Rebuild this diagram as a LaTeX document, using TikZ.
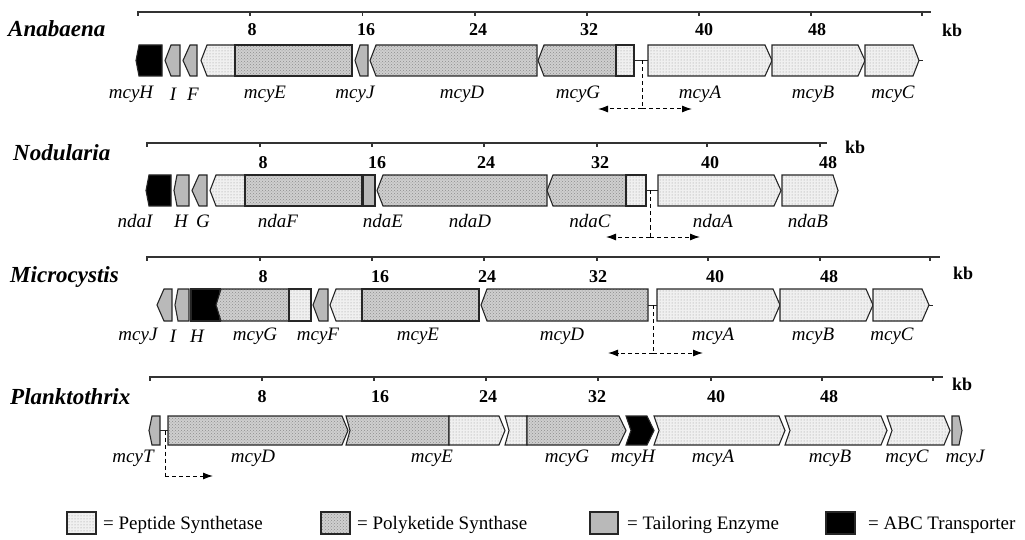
\documentclass[tikz,border=0pt]{standalone}
\usepackage{fontspec}
\setmainfont{Liberation Serif}
\usetikzlibrary{patterns,arrows.meta}
\newcommand\gene[7]{%
 \pgfmathsetmacro\gLc{#1+max(#5,0)}%
 \pgfmathsetmacro\gLm{#1+max(-(#5),0)}%
 \pgfmathsetmacro\gRc{#2-max(#6,0)}%
 \pgfmathsetmacro\gRm{#2-max(-(#6),0)}%
 \pgfmathsetmacro\gT{#3-#4}%
 \pgfmathsetmacro\gB{#3+#4}%
 \path[#7] (\gLc,\gT) -- (\gRc,\gT) -- (\gRm,#3) -- (\gRc,\gB) -- (\gLc,\gB) -- (\gLm,#3) -- cycle;}
\tikzset{
 gn/.style={draw=black!85, line width=1.1pt, line join=miter},
 pep/.style={gn, preaction={fill=gray!12}, pattern=dots, pattern color=gray!85},
 pks/.style={gn, preaction={fill=gray!38}, pattern=crosshatch dots, pattern color=gray!90},
 tail/.style={gn, fill=gray!55},
 abc/.style={gn, fill=black},
 axisline/.style={draw=black!80, line width=1.1pt},
 ttl/.style={font=\fontsize{23}{23}\selectfont\bfseries\itshape, anchor=west, inner sep=0},
 num/.style={font=\fontsize{18}{18}\selectfont\bfseries, inner sep=0},
 lab/.style={font=\fontsize{19}{19}\selectfont\itshape, inner sep=0},
 leg/.style={font=\fontsize{19}{19}\selectfont, anchor=west, inner sep=0},
 dline/.style={dash pattern=on 4pt off 3pt, line width=1pt},
 darr/.style={dline, -{Latex[length=10pt,width=7pt]}},
 link/.style={line width=1pt, draw=black!85}
}
\begin{document}
\begin{tikzpicture}[x=1pt,y=-1pt]
\useasboundingbox (0,0) rectangle (1025,540);
% ================= Row 1: Anabaena =================
\node[ttl] (t1) at (8,29) {Anabaena};
\draw[axisline] (138,12) -- (931,12);
\foreach \x in {138,250,362.5,475,587,699,811,922} \draw[axisline] (\x,11) -- (\x,16);
\node[num] (a1n8) at (252,30) {8};
\node[num] (a1n16) at (366,30) {16};
\node[num] (a1n24) at (478,30) {24};
\node[num] (a1n32) at (589,30) {32};
\node[num] (a1n40) at (704,30) {40};
\node[num] (a1n48) at (817,30) {48};
\node[num] (a1kb) at (952,30) {kb};
\gene{136}{162}{60.5}{15.5}{3}{0}{abc}
\gene{165}{180}{60.5}{15.5}{6}{0}{tail}
\gene{183}{197}{60.5}{15.5}{7}{0}{tail}
\gene{201}{235}{60.5}{15.5}{6}{0}{pep}
\gene{235}{352}{60.5}{15.5}{0}{0}{pks}
\gene{355}{368}{60.5}{15.5}{5}{0}{tail}
\gene{370}{537}{60.5}{15.5}{6}{0}{pks}
\gene{538}{616}{60.5}{15.5}{6}{0}{pks}
\gene{616}{634}{60.5}{15.5}{0}{0}{pep}
\gene{648}{772}{60.5}{15.5}{0}{7}{pep}
\gene{772}{865}{60.5}{15.5}{0}{7}{pep}
\gene{865}{919}{60.5}{15.5}{0}{6}{pep}
\coordinate (r1a) at (634,60.5); \coordinate (r1b) at (648,60.5);
\draw[link] (r1a) -- (r1b);
\coordinate (r1c) at (919,60.5); \coordinate (r1d) at (923,60.5);
\draw[link] (r1c) -- (r1d);
\coordinate (r1s) at (642,60.5); \coordinate (r1m) at (642,109);
\coordinate (r1l) at (598,109); \coordinate (r1r) at (692,109);
\draw[dline] (r1s) -- (r1m);
\draw[darr] (r1m) -- (r1l);
\draw[darr] (r1m) -- (r1r);
\node[lab] (l1h) at (131,94) {mcyH};
\node[lab] (l1i) at (173,94) {I};
\node[lab] (l1f) at (193,94) {F};
\node[lab] (l1e) at (265,94) {mcyE};
\node[lab] (l1j) at (355,94) {mcyJ};
\node[lab] (l1d) at (462,94) {mcyD};
\node[lab] (l1g) at (578,94) {mcyG};
\node[lab] (l1a) at (700,94) {mcyA};
\node[lab] (l1b) at (813,94) {mcyB};
\node[lab] (l1cc) at (893,94) {mcyC};
% ================= Row 2: Nodularia =================
\node[ttl] (t2) at (13,153) {Nodularia};
\draw[axisline] (147,143) -- (827,143);
\foreach \x in {147,260,372,484,597,707,820} \draw[axisline] (\x,142) -- (\x,147);
\node[num] (a2n8) at (263,163) {8};
\node[num] (a2n16) at (377,163) {16};
\node[num] (a2n24) at (486,163) {24};
\node[num] (a2n32) at (600,163) {32};
\node[num] (a2n40) at (710,163) {40};
\node[num] (a2n48) at (828,163) {48};
\node[num] (a2kb) at (855,147) {kb};
\gene{146}{171}{190.5}{15.5}{3}{0}{abc}
\gene{174}{189}{190.5}{15.5}{3}{0}{tail}
\gene{192}{207}{190.5}{15.5}{7}{0}{tail}
\gene{210}{245}{190.5}{15.5}{6}{0}{pep}
\gene{245}{362}{190.5}{15.5}{0}{0}{pks}
\gene{363}{375}{190.5}{15.5}{0}{0}{tail}
\gene{377}{547}{190.5}{15.5}{6}{0}{pks}
\gene{547}{626}{190.5}{15.5}{6}{0}{pks}
\gene{626}{646}{190.5}{15.5}{0}{0}{pep}
\gene{658}{781}{190.5}{15.5}{0}{7}{pep}
\gene{782}{838}{190.5}{15.5}{0}{5}{pep}
\coordinate (r2a) at (646,190.5); \coordinate (r2b) at (658,190.5);
\draw[link] (r2a) -- (r2b);
\coordinate (r2s) at (650,190.5); \coordinate (r2m) at (650,237);
\coordinate (r2l) at (606,237); \coordinate (r2r) at (700,237);
\draw[dline] (r2s) -- (r2m);
\draw[darr] (r2m) -- (r2l);
\draw[darr] (r2m) -- (r2r);
\node[lab] (l2i) at (135,221) {ndaI};
\node[lab] (l2h) at (181,221) {H};
\node[lab] (l2g) at (203,221) {G};
\node[lab] (l2f) at (278,221) {ndaF};
\node[lab] (l2e) at (383,221) {ndaE};
\node[lab] (l2d) at (470,221) {ndaD};
\node[lab] (l2c) at (590,221) {ndaC};
\node[lab] (l2a) at (713,221) {ndaA};
\node[lab] (l2b) at (808,221) {ndaB};
% ================= Row 3: Microcystis =================
\node[ttl] (t3) at (10,277) {Microcystis};
\draw[axisline] (147,257) -- (940,257);
\foreach \x in {147,260,372,484,597,708,820,930} \draw[axisline] (\x,256) -- (\x,261);
\node[num] (a3n8) at (263,277) {8};
\node[num] (a3n16) at (380,277) {16};
\node[num] (a3n24) at (487,277) {24};
\node[num] (a3n32) at (598,277) {32};
\node[num] (a3n40) at (715,277) {40};
\node[num] (a3n48) at (829,277) {48};
\node[num] (a3kb) at (963,273) {kb};
\gene{157}{172}{305}{16}{7}{0}{tail}
\gene{175}{189}{305}{16}{3}{0}{tail}
\gene{191}{220}{305}{16}{0}{0}{abc}
\gene{216}{289}{305}{16}{5}{0}{pks}
\gene{289}{311}{305}{16}{0}{0}{pep}
\gene{313}{328}{305}{16}{6}{0}{tail}
\gene{330}{362}{305}{16}{6}{0}{pep}
\gene{362}{479}{305}{16}{0}{0}{pks}
\gene{481}{648}{305}{16}{6}{0}{pks}
\gene{657}{780}{305}{16}{0}{7}{pep}
\gene{780}{873}{305}{16}{0}{7}{pep}
\gene{873}{929}{305}{16}{0}{7}{pep}
\coordinate (r3a) at (648,305); \coordinate (r3b) at (657,305);
\draw[link] (r3a) -- (r3b);
\coordinate (r3c) at (929,305); \coordinate (r3d) at (933,305);
\draw[link] (r3c) -- (r3d);
\coordinate (r3s) at (653,305); \coordinate (r3m) at (653,353);
\coordinate (r3l) at (608,353); \coordinate (r3r) at (703,353);
\draw[dline] (r3s) -- (r3m);
\draw[darr] (r3m) -- (r3l);
\draw[darr] (r3m) -- (r3r);
\node[lab] (l3j) at (138,336) {mcyJ};
\node[lab] (l3i) at (173,336) {I};
\node[lab] (l3h) at (197,336) {H};
\node[lab] (l3g) at (255,336) {mcyG};
\node[lab] (l3f) at (318,336) {mcyF};
\node[lab] (l3e) at (418,336) {mcyE};
\node[lab] (l3d) at (562,336) {mcyD};
\node[lab] (l3a) at (713,336) {mcyA};
\node[lab] (l3b) at (813,336) {mcyB};
\node[lab] (l3cc) at (892,336) {mcyC};
% ================= Row 4: Planktothrix =================
\node[ttl] (t4) at (10,397) {Planktothrix};
\draw[axisline] (150,377) -- (943,377);
\foreach \x in {150,262,374,486,598,711,822,933} \draw[axisline] (\x,376) -- (\x,381);
\node[num] (a4n8) at (262,397) {8};
\node[num] (a4n16) at (380,397) {16};
\node[num] (a4n24) at (488,397) {24};
\node[num] (a4n32) at (597,397) {32};
\node[num] (a4n40) at (716,397) {40};
\node[num] (a4n48) at (829,397) {48};
\node[num] (a4kb) at (962,384) {kb};
\gene{149}{160}{430.5}{14.5}{3}{0}{tail}
\gene{168}{348}{430.5}{14.5}{0}{6}{pks}
\gene{346}{449}{430.5}{14.5}{-4}{0}{pks}
\gene{449}{505}{430.5}{14.5}{0}{6}{pep}
\gene{505}{527}{430.5}{14.5}{-4}{0}{pep}
\gene{527}{626}{430.5}{14.5}{0}{7}{pks}
\gene{626}{654}{430.5}{14.5}{-5}{7}{abc}
\gene{654}{785}{430.5}{14.5}{-5}{6}{pep}
\gene{785}{887}{430.5}{14.5}{-5}{6}{pep}
\gene{887}{950}{430.5}{14.5}{-5}{6}{pep}
\gene{952}{962}{430.5}{14.5}{0}{3}{tail}
\coordinate (r4a) at (160,430.5); \coordinate (r4b) at (168,430.5);
\draw[link] (r4a) -- (r4b);
\coordinate (r4s) at (165,430.5); \coordinate (r4m) at (165,476);
\coordinate (r4r) at (213,476);
\draw[dline] (r4s) -- (r4m);
\draw[darr] (r4m) -- (r4r);
\node[lab] (l4t) at (133,458) {mcyT};
\node[lab] (l4d) at (253,458) {mcyD};
\node[lab] (l4e) at (432,458) {mcyE};
\node[lab] (l4g) at (567,458) {mcyG};
\node[lab] (l4h) at (633,458) {mcyH};
\node[lab] (l4a) at (713,458) {mcyA};
\node[lab] (l4b) at (830,458) {mcyB};
\node[lab] (l4cc) at (907,458) {mcyC};
\node[lab] (l4j) at (965,458) {mcyJ};
% ================= Legend =================
\gene{67}{96}{523}{11}{0}{0}{pep}
\node[leg] (g1) at (103,525) {= Peptide Synthetase};
\gene{321}{350}{523}{11}{0}{0}{pks}
\node[leg] (g2) at (357,525) {= Polyketide Synthase};
\gene{590}{618}{523}{11}{0}{0}{tail}
\node[leg] (g3) at (627,525) {= Tailoring Enzyme};
\gene{826}{855}{523}{11}{0}{0}{abc}
\node[leg] (g4) at (868,525) {= ABC Transporter};
\end{tikzpicture}
\end{document}
